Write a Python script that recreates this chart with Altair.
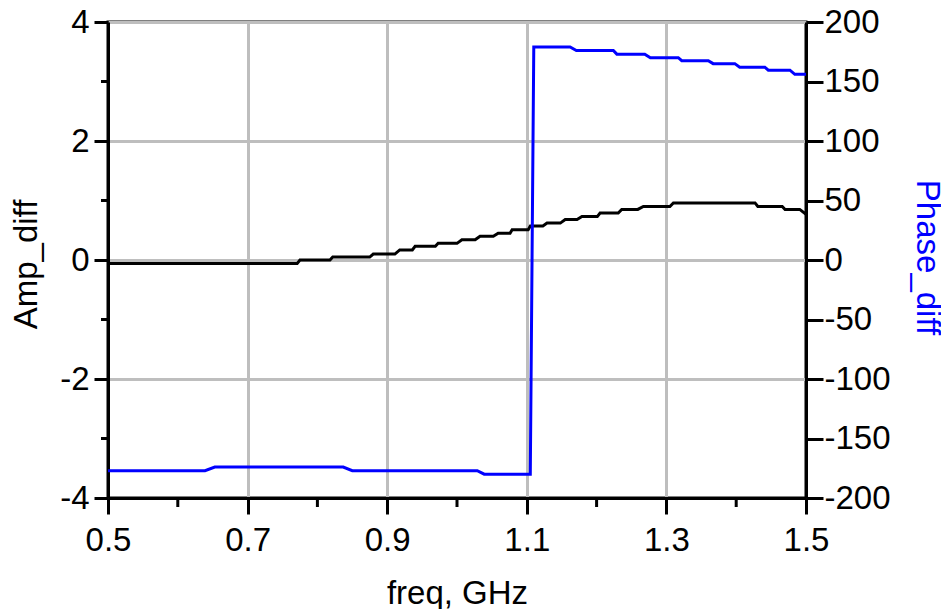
import altair as alt
import pandas as pd

# ---- data ----
amp_freq = [0.500, 0.771, 0.775, 0.818, 0.822, 0.875, 0.880, 0.911, 0.918, 0.936,
            0.940, 0.969, 0.973, 1.000, 1.007, 1.026, 1.033, 1.052, 1.059, 1.076,
            1.079, 1.102, 1.105, 1.123, 1.129, 1.148, 1.155, 1.172, 1.179, 1.201,
            1.205, 1.231, 1.236, 1.259, 1.267, 1.305, 1.310, 1.427, 1.431, 1.466,
            1.470, 1.491, 1.500]
amp_val = [-0.06, -0.06, 0.0, 0.0, 0.05, 0.05, 0.10, 0.10, 0.17, 0.17,
           0.23, 0.23, 0.28, 0.28, 0.34, 0.34, 0.40, 0.40, 0.45, 0.45,
           0.51, 0.51, 0.57, 0.57, 0.62, 0.62, 0.68, 0.68, 0.73, 0.73,
           0.79, 0.79, 0.85, 0.85, 0.90, 0.90, 0.96, 0.96, 0.90, 0.90,
           0.85, 0.85, 0.77]

ph_freq = [0.500, 0.639, 0.653, 0.837, 0.850, 1.029, 1.039, 1.105, 1.110, 1.162,
           1.171, 1.224, 1.229, 1.269, 1.277, 1.317, 1.322, 1.360, 1.367, 1.398,
           1.405, 1.441, 1.446, 1.477, 1.484, 1.500]
ph_val = [-177, -177, -174, -174, -177, -177, -180, -180, 179, 179,
          176, 176, 173, 173, 170, 170, 167.5, 167.5, 165, 165,
          162, 162, 159.5, 159.5, 156, 156]

x_major = [0.5, 0.7, 0.9, 1.1, 1.3, 1.5]
x_minor = [0.6, 0.8, 1.0, 1.2, 1.4]
amp_major = [-4, -2, 0, 2, 4]
amp_minor = [-3, -1, 1, 3]
ph_ticks = [-200, -150, -100, -50, 0, 50, 100, 150, 200]

W, H = 698, 476
FONT = "Liberation Sans"
FS = 33
PLAIN = "'' + datum.value"   # keeps an ASCII hyphen for negatives

amp_df = pd.DataFrame({"freq": amp_freq, "amp": amp_val})
ph_df = pd.DataFrame({"freq": ph_freq, "phase": ph_val})
xminor_df = pd.DataFrame({"freq": x_minor})
yminor_df = pd.DataFrame({"amp": amp_minor})

xscale = alt.Scale(domain=[0.5, 1.5], nice=False, zero=False)

amp_line = alt.Chart(amp_df).mark_line(color="black", strokeWidth=3).encode(
    x=alt.X("freq:Q", scale=xscale,
            axis=alt.Axis(values=x_major, format=".1f", title="freq, GHz",
                          grid=True, gridColor="#BEBEBE", gridWidth=3, gridOpacity=1,
                          tickSize=16, tickWidth=3, tickColor="black",
                          domainColor="black", domainWidth=3,
                          labelFont=FONT, labelFontSize=FS, labelColor="black",
                          labelPadding=10, labelFlush=False, labelOverlap=False,
                          titleFont=FONT, titleFontSize=FS, titleFontWeight="normal",
                          titleColor="black", titleBaseline="alphabetic",
                          titleX=W / 2, titleY=105)),
    y=alt.Y("amp:Q", scale=alt.Scale(domain=[-4, 4], nice=False),
            axis=alt.Axis(orient="left", values=amp_major, title="Amp_diff",
                          labelExpr=PLAIN,
                          grid=True, gridColor="#BEBEBE", gridWidth=3, gridOpacity=1,
                          tickSize=14, tickWidth=3, tickColor="black",
                          domainColor="black", domainWidth=3,
                          labelFont=FONT, labelFontSize=FS, labelColor="black",
                          labelPadding=5, labelFlush=False, labelOverlap=False,
                          titleFont=FONT, titleFontSize=FS, titleFontWeight="normal",
                          titleColor="black", titleAngle=270,
                          titleBaseline="alphabetic", titleX=-72, titleY=242)),
)

ph_line = alt.Chart(ph_df).mark_line(color="#0000FF", strokeWidth=3).encode(
    x=alt.X("freq:Q", scale=xscale),
    y=alt.Y("phase:Q", scale=alt.Scale(domain=[-200, 200], nice=False),
            axis=alt.Axis(orient="right", values=ph_ticks, title="Phase_diff",
                          labelExpr=PLAIN,
                          grid=False,
                          tickSize=17, tickWidth=3, tickColor="black",
                          domainColor="black", domainWidth=3,
                          labelFont=FONT, labelFontSize=FS, labelColor="black",
                          labelPadding=1, labelFlush=False, labelOverlap=False,
                          titleFont=FONT, titleFontSize=FS, titleFontWeight="normal",
                          titleColor="#0000FF", titleAngle=90,
                          titleBaseline="alphabetic", titleX=110, titleY=235)),
)

x_minor_ticks = alt.Chart(xminor_df).mark_rule(color="black", strokeWidth=3, clip=False).encode(
    x=alt.X("freq:Q", scale=xscale),
    y=alt.value(H),
    y2=alt.value(H + 9),
)

y_minor_ticks = alt.Chart(yminor_df).mark_rule(color="black", strokeWidth=3, clip=False).encode(
    y=alt.Y("amp:Q", scale=alt.Scale(domain=[-4, 4], nice=False), axis=None),
    x=alt.value(-7),
    x2=alt.value(0),
)

chart = alt.layer(amp_line, ph_line, x_minor_ticks, y_minor_ticks).resolve_scale(
    y="independent"
).properties(
    width=W, height=H,
    autosize=alt.AutoSizeParams(type="none"),
    padding={"left": 100, "top": 14, "right": 135, "bottom": 111},
    background="white",
).configure_view(stroke="black", strokeWidth=3)

chart.save("out.html", embed_options={"renderer": "svg", "actions": False})
